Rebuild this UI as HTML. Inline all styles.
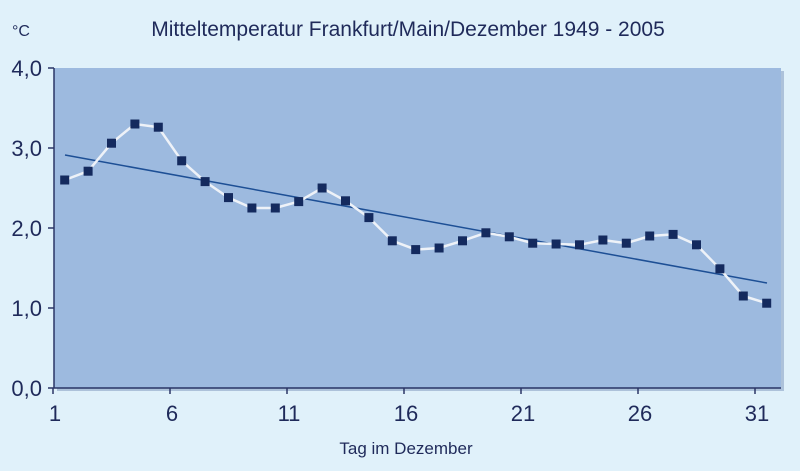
<!DOCTYPE html>
<html><head><meta charset="utf-8"><style>
html,body{margin:0;padding:0;background:#e0f1fa;}
svg{display:block;font-family:"Liberation Sans",sans-serif;}
</style></head><body>
<svg width="800" height="471" viewBox="0 0 800 471">
<rect width="800" height="471" fill="#e0f1fa"/>
<rect x="57" y="71" width="727" height="320" fill="#8aa3c4" opacity="0.6"/>
<rect x="54" y="68" width="727" height="320" fill="#9dbadf"/>
<text x="408" y="36" font-size="21" fill="#1f2a5a" text-anchor="middle">Mitteltemperatur Frankfurt/Main/Dezember 1949 - 2005</text>
<text x="12" y="36" font-size="16" fill="#1f2a5a">°C</text>
<g stroke="#2a3566" stroke-width="1.5" fill="none">
<line x1="54" y1="68" x2="54" y2="388"/>
<line x1="54" y1="388" x2="781" y2="388"/>
<line x1="48" y1="68" x2="54" y2="68"/><line x1="48" y1="148" x2="54" y2="148"/><line x1="48" y1="228" x2="54" y2="228"/><line x1="48" y1="308" x2="54" y2="308"/><line x1="48" y1="388" x2="54" y2="388"/>
<line x1="53" y1="388" x2="53" y2="394"/><line x1="170" y1="388" x2="170" y2="394"/><line x1="287" y1="388" x2="287" y2="394"/><line x1="404" y1="388" x2="404" y2="394"/><line x1="521" y1="388" x2="521" y2="394"/><line x1="638" y1="388" x2="638" y2="394"/><line x1="755" y1="388" x2="755" y2="394"/>
</g>
<g font-size="22" fill="#1f2a5a" text-anchor="end">
<text x="42" y="76">4,0</text><text x="42" y="156">3,0</text><text x="42" y="236">2,0</text><text x="42" y="316">1,0</text><text x="42" y="396">0,0</text>
</g>
<g font-size="22" fill="#1f2a5a" text-anchor="middle">
<text x="55" y="421">1</text><text x="172" y="421">6</text><text x="289" y="421">11</text><text x="406" y="421">16</text><text x="523" y="421">21</text><text x="640" y="421">26</text><text x="757" y="421">31</text>
</g>
<text x="406" y="454" font-size="17" fill="#1f2a5a" text-anchor="middle">Tag im Dezember</text>
<line x1="65" y1="155" x2="767" y2="283" stroke="#1d4f95" stroke-width="1.5"/>
<polyline fill="none" stroke="#eef2f8" stroke-width="2.5" points="64.7,180 88.1,171.2 111.5,143.2 134.9,124 158.3,127.2 181.7,160.8 205.1,181.6 228.5,197.6 251.9,208 275.3,208 298.7,201.6 322.1,188 345.5,200.8 368.9,217.6 392.3,240.8 415.7,249.6 439.1,248 462.5,240.8 485.9,232.8 509.3,236.8 532.7,243.2 556.1,244 579.5,244.8 602.9,240 626.3,243.2 649.7,236 673.1,234.4 696.5,244.8 719.9,268.8 743.3,296 766.7,303.2"/>
<g fill="#142a5e">
<rect x="60.2" y="175.5" width="9" height="9"/>
<rect x="83.6" y="166.7" width="9" height="9"/>
<rect x="107" y="138.7" width="9" height="9"/>
<rect x="130.4" y="119.5" width="9" height="9"/>
<rect x="153.8" y="122.7" width="9" height="9"/>
<rect x="177.2" y="156.3" width="9" height="9"/>
<rect x="200.6" y="177.1" width="9" height="9"/>
<rect x="224" y="193.1" width="9" height="9"/>
<rect x="247.4" y="203.5" width="9" height="9"/>
<rect x="270.8" y="203.5" width="9" height="9"/>
<rect x="294.2" y="197.1" width="9" height="9"/>
<rect x="317.6" y="183.5" width="9" height="9"/>
<rect x="341" y="196.3" width="9" height="9"/>
<rect x="364.4" y="213.1" width="9" height="9"/>
<rect x="387.8" y="236.3" width="9" height="9"/>
<rect x="411.2" y="245.1" width="9" height="9"/>
<rect x="434.6" y="243.5" width="9" height="9"/>
<rect x="458" y="236.3" width="9" height="9"/>
<rect x="481.4" y="228.3" width="9" height="9"/>
<rect x="504.8" y="232.3" width="9" height="9"/>
<rect x="528.2" y="238.7" width="9" height="9"/>
<rect x="551.6" y="239.5" width="9" height="9"/>
<rect x="575" y="240.3" width="9" height="9"/>
<rect x="598.4" y="235.5" width="9" height="9"/>
<rect x="621.8" y="238.7" width="9" height="9"/>
<rect x="645.2" y="231.5" width="9" height="9"/>
<rect x="668.6" y="229.9" width="9" height="9"/>
<rect x="692" y="240.3" width="9" height="9"/>
<rect x="715.4" y="264.3" width="9" height="9"/>
<rect x="738.8" y="291.5" width="9" height="9"/>
<rect x="762.2" y="298.7" width="9" height="9"/>
</g>
</svg>
</body></html>
